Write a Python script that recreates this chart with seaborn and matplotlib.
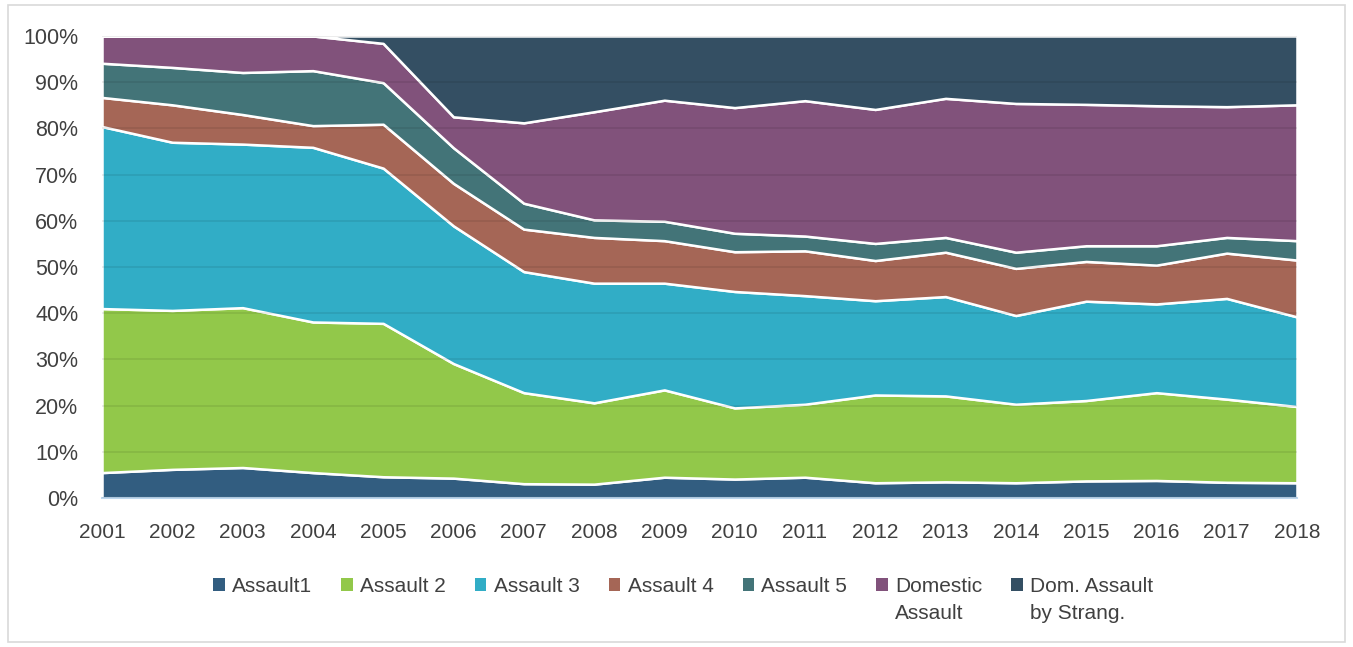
import matplotlib
matplotlib.use("Agg")
import numpy as np
import matplotlib.pyplot as plt
import seaborn as sns
from matplotlib.patches import Patch, Rectangle
from matplotlib.ticker import PercentFormatter

years = list(range(2001, 2019))
assault1 = [5.5, 6.2, 6.6, 5.5, 4.6, 4.3, 3.1, 3.0, 4.5, 4.1, 4.5, 3.3, 3.5, 3.3, 3.7, 3.8, 3.4, 3.3]
assault2 = [35.5, 34.4, 34.6, 32.6, 33.2, 24.8, 19.7, 17.6, 18.9, 15.4, 15.8, 19.0, 18.6, 17.0, 17.4, 19.0, 18.0, 16.5]
assault3 = [39.4, 36.4, 35.4, 37.8, 33.6, 29.8, 26.2, 25.9, 23.1, 25.2, 23.5, 20.4, 21.5, 19.2, 21.5, 19.2, 21.8, 19.4]
assault4 = [6.3, 8.1, 6.4, 4.7, 9.5, 9.2, 9.2, 9.9, 9.2, 8.6, 9.7, 8.7, 9.6, 10.2, 8.6, 8.4, 9.8, 12.3]
assault5 = [7.4, 8.1, 9.1, 11.9, 9.0, 7.7, 5.6, 3.8, 4.2, 4.0, 3.2, 3.7, 3.2, 3.5, 3.4, 4.2, 3.4, 4.2]
domestic = [5.9, 6.8, 7.9, 7.5, 8.5, 6.7, 17.4, 23.4, 26.2, 27.2, 29.3, 29.0, 30.1, 32.2, 30.6, 30.3, 28.3, 29.4]
strangulation = [0, 0, 0, 0, 1.6, 17.5, 18.8, 16.4, 13.9, 15.5, 14.0, 15.9, 13.5, 14.6, 14.8, 15.1, 15.3, 14.9]

labels = ["Assault1", "Assault 2", "Assault 3", "Assault 4", "Assault 5",
          "Domestic\nAssault", "Dom. Assault\nby Strang."]
colors = ["#325D80", "#92C84A", "#31ADC6", "#A56656", "#437478", "#81527B", "#344F63"]

sns.set_theme(style="white")
plt.rcParams['font.family'] = ['Liberation Sans', 'DejaVu Sans']

series = np.array([assault1, assault2, assault3, assault4, assault5, domestic, strangulation], dtype=float)
shares = series / series.sum(axis=0)

fig = plt.figure(figsize=(13.53, 6.47), dpi=100)
ax = fig.add_axes([0.0754, 0.2303, 0.8832, 0.7141])

ax.stackplot(years, shares, colors=colors, edgecolor="white", linewidth=1.8, zorder=2)

ax.set_xlim(2001, 2018)
ax.set_ylim(0, 1)
ax.set_yticks(np.arange(0, 1.01, 0.1))
ax.yaxis.set_major_formatter(PercentFormatter(1.0, decimals=0))
ax.set_xticks(years)
ax.grid(axis="y", color="black", alpha=0.09, linewidth=1.2, zorder=3)
ax.set_axisbelow(False)

for s in ["left", "right", "top"]:
    ax.spines[s].set_visible(False)
ax.spines["bottom"].set_color("#BDD7EE")
ax.spines["bottom"].set_linewidth(1.5)
ax.tick_params(axis="x", colors="#BDD7EE", direction="out", length=8, width=1.5, pad=10,
               labelcolor="#404040", labelsize=15)
ax.tick_params(axis="y", length=0, labelcolor="#404040", labelsize=15.5, pad=17)
ax.axhline(1.0, color="#D9D9D9", linewidth=1.2, zorder=1)

handles = [Patch(facecolor=c, edgecolor="none") for c in colors]
first_lines = [l.split("\n")[0] for l in labels]
leg = fig.legend(handles, first_lines, loc="upper center", bbox_to_anchor=(0.505, 0.137),
                 ncol=7, frameon=False, fontsize=15, handlelength=0.55, handleheight=0.55,
                 handletextpad=0.35, columnspacing=1.4, labelcolor="#404040")

fig.canvas.draw()
inv = fig.transFigure.inverted()
for txt, lab in zip(leg.get_texts(), labels):
    if "\n" in lab:
        bb = txt.get_window_extent()
        x0, y0 = inv.transform((bb.x0, bb.y0))
        fig.text(x0, y0 - 0.012, lab.split("\n")[1], ha="left", va="top",
                 fontsize=15, color="#404040")

fig.patches.append(Rectangle((0.006, 0.008), 0.988, 0.984, transform=fig.transFigure,
                             fill=False, edgecolor="#D9D9D9", linewidth=1.2))

fig.savefig("out.png", dpi=100)
